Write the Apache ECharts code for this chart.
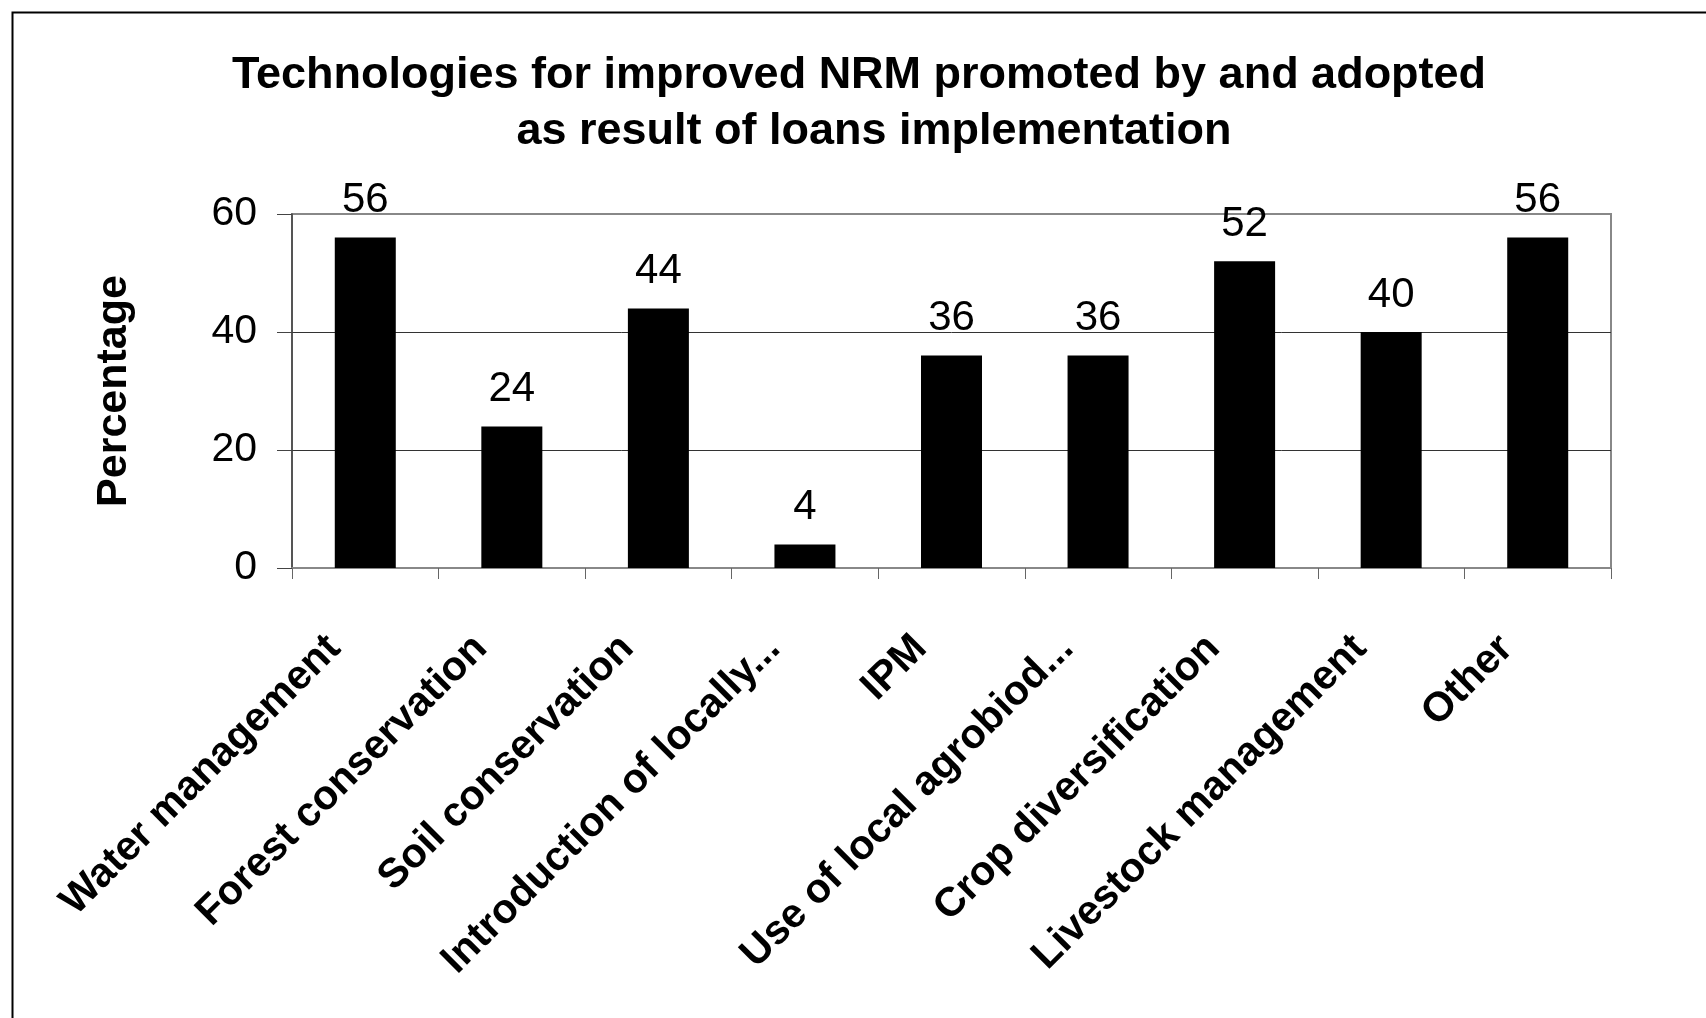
<!DOCTYPE html>
<html>
<head>
<meta charset="utf-8">
<title>Technologies for improved NRM</title>
<script src="https://cdn.jsdelivr.net/npm/echarts@6/dist/echarts.min.js"></script>
<style>
  html, body { margin: 0; padding: 0; background: #fff; }
  #chart { width: 1706px; height: 1018px; }
</style>
</head>
<body>
<div id="chart"></div>
<script>
const titleLines = [
  'Technologies for improved NRM promoted by and adopted',
  'as result of loans implementation'
]
const categories = [
  'Water management',
  'Forest conservation',
  'Soil conservation',
  'Introduction of locally...',
  'IPM',
  'Use of local agrobiod...',
  'Crop diversification',
  'Livestock management',
  'Other'
]
const values = [56, 24, 44, 4, 36, 36, 52, 40, 56]
const yTicks = { min: 0, max: 60, interval: 20 }
const yName = 'Percentage'

const font = '"Liberation Sans", Arial, sans-serif'

const chart = echarts.init(document.getElementById('chart'), null, { renderer: 'canvas' })

chart.setOption({
  animation: false,
  backgroundColor: '#fff',
  title: [
    {
      text: titleLines[0], left: 854, top: 48, textAlign: 'center',
      textStyle: { fontFamily: font, fontSize: 45, fontWeight: 'bold', color: '#000' }
    },
    {
      text: titleLines[1], left: 869, top: 104, textAlign: 'center',
      textStyle: { fontFamily: font, fontSize: 45, fontWeight: 'bold', color: '#000' }
    }
  ],
  graphic: [{
    type: 'rect', left: 10, top: 10, z: -1,
    shape: { width: 1800, height: 1100 },
    style: { fill: 'none', stroke: '#000', lineWidth: 2 }
  }],
  grid: {
    left: 292, right: 95, top: 214, bottom: 450,
    show: true, borderColor: '#888', borderWidth: 2, backgroundColor: '#fff'
  },
  xAxis: {
    type: 'category', data: categories,
    axisLine: { lineStyle: { color: '#888', width: 2 } },
    axisTick: { show: true, length: 11, lineStyle: { color: '#666', width: 1 } },
    axisLabel: {
      interval: 0, rotate: 45, margin: 43, padding: [0, 44, 0, 0],
      fontFamily: font, fontSize: 41, fontWeight: 'bold', color: '#000'
    },
    splitLine: { show: false }
  },
  yAxis: {
    type: 'value', min: yTicks.min, max: yTicks.max, interval: yTicks.interval,
    name: yName, nameLocation: 'middle', nameRotate: 90, nameGap: 156,
    nameTextStyle: { fontFamily: font, fontSize: 43, fontWeight: 'bold', color: '#000' },
    axisLine: { show: true, lineStyle: { color: '#444', width: 1.5 } },
    axisTick: { show: true, length: 15, lineStyle: { color: '#444', width: 1 } },
    axisLabel: { margin: 35, fontFamily: font, fontSize: 41, color: '#000' },
    splitLine: { lineStyle: { color: ['#888', '#333', '#333', '#888'], width: 1 } }
  },
  series: [{
    type: 'bar', data: values, barWidth: 61,
    itemStyle: { color: '#000' },
    label: {
      show: true, position: 'top', distance: 16,
      fontFamily: font, fontSize: 42, color: '#000'
    }
  }]
})
</script>
</body>
</html>
